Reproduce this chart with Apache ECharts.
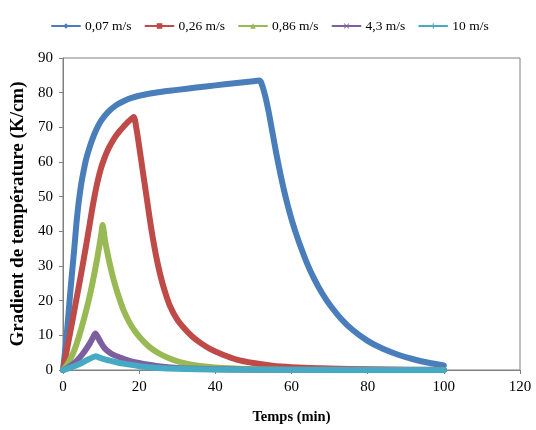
<!DOCTYPE html>
<html><head><meta charset="utf-8">
<script src="https://cdn.jsdelivr.net/npm/echarts@6/dist/echarts.min.js"></script>
<style>html,body{margin:0;padding:0;background:#fff}#c{width:536px;height:430px}</style>
</head><body><div id="c"></div>
<script>
const seriesNames = ['0,07 m/s', '0,26 m/s', '0,86 m/s', '4,3 m/s', '10 m/s'];
const xTicks = [0, 20, 40, 60, 80, 100, 120];
const yTicks = [0, 10, 20, 30, 40, 50, 60, 70, 80, 90];

const t007 = [0, 0.5, 1, 1.5, 2, 2.5, 3, 3.5, 4, 4.5, 5, 6, 7, 8, 9, 10, 12, 14, 16, 18, 20, 25, 30, 35, 40, 45, 50, 51.5, 52, 53, 54, 55, 56, 57, 58, 59, 60, 61, 62, 64, 66, 68, 70, 73, 76, 80, 84, 88, 92, 96, 100];
const v007 = [0, 5, 10.5, 17, 23.5, 29.5, 35.5, 42, 47.3, 51.5, 55, 60.5, 64.3, 67.4, 69.9, 71.9, 74.6, 76.4, 77.6, 78.5, 79.1, 80.1, 80.8, 81.5, 82.1, 82.7, 83.3, 83.5, 83, 79.5, 74.5, 68.5, 62.5, 57, 52, 47.5, 43.5, 40, 36.8, 31, 26.2, 22.2, 18.9, 14.8, 11.6, 8.4, 6.1, 4.4, 3.1, 2.1, 1.3];

const t026 = [0, 1, 2, 3, 4, 5, 6, 7, 8, 9, 10, 11, 12, 13, 14, 15, 16, 17, 18, 18.6, 19.3, 20, 21, 22, 23, 24, 25, 26, 27, 28, 30, 32, 34, 36, 38.6, 42, 45.6, 50, 55, 60, 70, 80, 90, 100];
const v026 = [0, 5.7, 11.5, 17.3, 23.2, 29.2, 35.5, 42, 48.5, 54, 58.3, 61.5, 64, 66, 67.7, 69.1, 70.3, 71.5, 72.5, 73, 69.5, 64.5, 57, 49.5, 42, 35.5, 30, 25.5, 21.8, 18.7, 14.5, 11.8, 9.6, 7.9, 6.1, 4.4, 3.0, 2.0, 1.2, 0.8, 0.4, 0.2, 0.1, 0.1];

const t086 = [0, 1, 2, 3, 4, 5, 6, 7, 8, 9, 10, 10.4, 11, 12, 13, 14, 15, 16, 17.5, 19, 20.5, 22.5, 25, 28, 31, 35, 40, 45, 50, 60, 80, 100];
const v086 = [0, 1.4, 3.3, 5.8, 9, 12.7, 16.8, 21.3, 26.5, 32.3, 38.8, 41.8, 37.5, 32, 27.3, 23.3, 20, 17, 13.6, 11, 9, 6.8, 4.9, 3.3, 2.2, 1.3, 0.7, 0.4, 0.25, 0.1, 0.05, 0];

const t43 = [0, 1, 2, 3, 4, 5, 6, 7, 7.8, 8.5, 9, 10, 11, 12, 13, 15, 17, 19.5, 22, 25, 30, 35, 40, 50, 100];
const v43 = [0, 0.5, 1.2, 2, 3.1, 4.4, 5.9, 7.6, 9.2, 10.5, 9.8, 7.8, 6.2, 5.2, 4.5, 3.6, 2.8, 2.1, 1.6, 1.1, 0.6, 0.35, 0.2, 0.1, 0];

const t10 = [0, 1, 2, 3.6, 5, 6.2, 7.5, 8.6, 9.5, 10.5, 12.3, 14.5, 16.7, 20.2, 25, 30, 40, 50, 100];
const v10 = [0, 0.3, 0.7, 1.4, 2.1, 2.8, 3.5, 4.0, 3.6, 3.2, 2.7, 2.1, 1.7, 1.1, 0.6, 0.35, 0.15, 0.05, 0];

const colors = ['#4A7EBB', '#BE4B48', '#98B954', '#7D5FA0', '#46AAC5'];
const symbols = ['diamond', 'rect', 'triangle',
  'path://M0,1L1,0L5,4L9,0L10,1L6,5L10,9L9,10L5,6L1,10L0,9L4,5Z',
  'path://M4,0H6V4H10V6H6V10H4V6H0V4H4Z'];

const times = [t007, t026, t086, t43, t10];
const vals = [v007, v026, v086, v43, v10];
const font = 'Liberation Serif';

const chart = echarts.init(document.getElementById('c'), null, {renderer: 'canvas'});
chart.setOption({
  animation: false,
  color: colors,
  textStyle: {fontFamily: font, color: '#000'},
  legend: {
    left: 46, top: 14, itemGap: 13, itemWidth: 28, itemHeight: 7,
    textStyle: {fontFamily: font, fontSize: 13.5, color: '#000'},
    data: seriesNames
  },
  grid: {left: 63, right: 16, top: 58, bottom: 60, show: true, borderColor: '#808080', borderWidth: 1},
  xAxis: {
    type: 'value', min: 0, max: 120, interval: 20,
    name: 'Temps (min)', nameLocation: 'middle', nameGap: 40,
    nameTextStyle: {fontFamily: font, fontSize: 14.5, fontWeight: 'bold', color: '#000'},
    axisLine: {lineStyle: {color: '#808080'}},
    axisTick: {show: true, length: 4, inside: false, lineStyle: {color: '#808080'}},
    axisLabel: {fontFamily: font, fontSize: 15, color: '#000', margin: 10, formatter: v => xTicks.includes(v) ? String(v) : ''},
    splitLine: {show: false}
  },
  yAxis: {
    type: 'value', min: 0, max: 90, interval: 10,
    name: 'Gradient de température (K/cm)', nameLocation: 'middle', nameGap: 35,
    nameTextStyle: {fontFamily: font, fontSize: 19, fontWeight: 'bold', color: '#000'},
    axisLine: {show: true, lineStyle: {color: '#808080'}},
    axisTick: {show: true, length: 4, lineStyle: {color: '#808080'}},
    axisLabel: {fontFamily: font, fontSize: 15, color: '#000', margin: 10, formatter: v => yTicks.includes(v) ? String(v) : ''},
    splitLine: {show: false}
  },
  series: seriesNames.map((n, i) => ({
    name: n, type: 'line', symbol: symbols[i], symbolSize: 7, showSymbol: false,
    smooth: 0.25,
    lineStyle: {width: 6, color: colors[i], join: 'round', cap: 'round'},
    itemStyle: {color: colors[i]},
    data: times[i].map((t, k) => [t, vals[i][k]])
  }))
});
</script></body></html>
